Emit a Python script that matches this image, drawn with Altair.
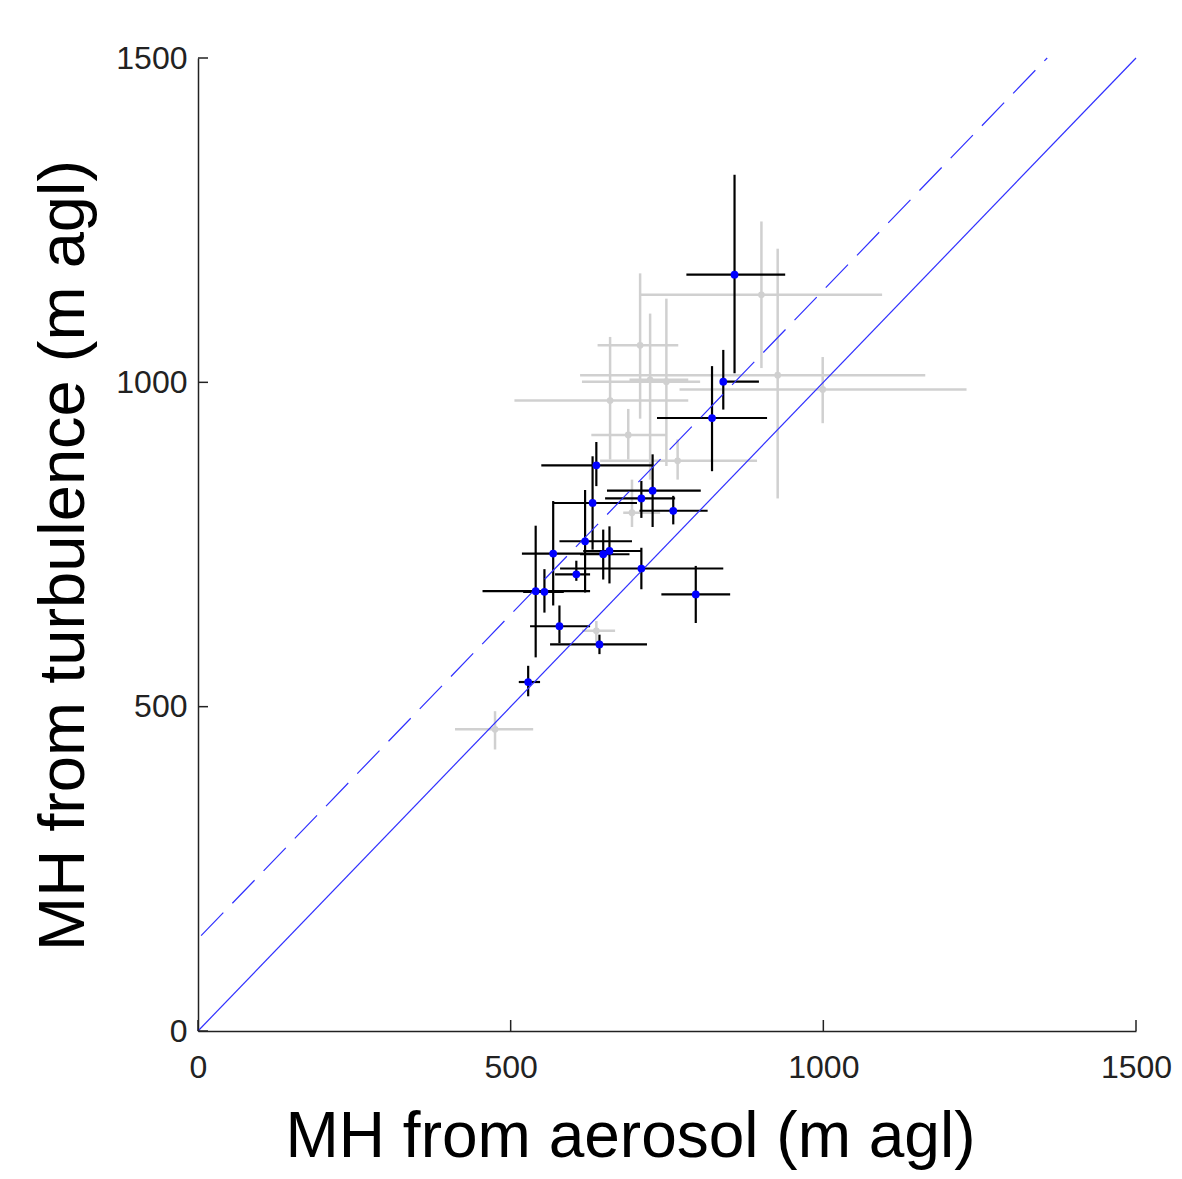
import altair as alt
import pandas as pd

# Blue points with black error bars
bx = [637, 727, 709, 760, 631, 619, 568, 648, 658, 709, 605, 540, 554, 578, 642, 796, 528, 858, 822, 840]
by = [872, 833, 821, 802, 814, 755, 736, 735, 740, 713, 704, 678, 677, 624, 596, 673, 538, 1166, 945, 1001]
bxlo = [549, 654, 651, 706, 568, 578, 518, 611, 616, 579, 571, 455, 520, 531, 563, 741, 513, 781, 734, 835]
bxhi = [728, 804, 763, 815, 702, 694, 643, 690, 710, 840, 627, 627, 585, 627, 718, 851, 547, 939, 910, 897]
bylo = [840, 777, 791, 781, 742, 676, 656, 696, 690, 681, 694, 576, 645, 598, 581, 629, 516, 1014, 863, 958]
byhi = [908, 889, 848, 825, 886, 834, 817, 773, 778, 745, 725, 779, 712, 656, 611, 717, 563, 1320, 1025, 1050]

# Gray points with gray error bars
gx = [707, 723, 749, 659, 688, 767, 901, 927, 999, 694, 637, 475]
gy = [1057, 1004, 1001, 972, 919, 879, 1135, 1011, 989, 799, 617, 465]
gxlo = [639, 690, 614, 506, 629, 643, 706, 611, 770, 680, 614, 411]
gxhi = [768, 784, 803, 784, 749, 894, 1094, 1163, 1229, 739, 667, 536]
gylo = [944, 850, 871, 881, 881, 850, 1022, 821, 937, 777, 599, 434]
gyhi = [1168, 1106, 1129, 1070, 959, 912, 1248, 1206, 1039, 850, 632, 493]

# Reference lines
solid_x = [0, 1500]
solid_y = [0, 1500]
dash_x = [5, 1358]
dash_y = [147, 1500]

tick_values = [0, 500, 1000, 1500]

bdf = pd.DataFrame({"x": bx, "y": by, "xlo": bxlo, "xhi": bxhi, "ylo": bylo, "yhi": byhi})
gdf = pd.DataFrame({"x": gx, "y": gy, "xlo": gxlo, "xhi": gxhi, "ylo": gylo, "yhi": gyhi})
sdf = pd.DataFrame({"x": solid_x, "y": solid_y})
ddf = pd.DataFrame({"x": dash_x, "y": dash_y})
tdf = pd.DataFrame({"v": tick_values})

W, H = 938, 973
sx = alt.Scale(domain=[0, 1500], nice=False, zero=False)
sy = alt.Scale(domain=[0, 1500], nice=False, zero=False)

FONT = "Liberation Sans"
xaxis = alt.Axis(values=tick_values, format="d", ticks=False, grid=False, domainColor="#222",
                 domainWidth=1.5, labelFont=FONT, labelFontSize=32, labelColor="#222",
                 labelPadding=21, labelFlush=False, labelOverlap=False,
                 title="MH from aerosol (m agl)", titleFont=FONT,
                 titleFontSize=64, titleFontWeight="normal", titleColor="#000",
                 titleX=432, titleY=125, titleAlign="center", titleBaseline="alphabetic")
yaxis = alt.Axis(values=tick_values, format="d", ticks=False, grid=False, domainColor="#222",
                 domainWidth=1.5, labelFont=FONT, labelFontSize=32, labelColor="#222",
                 labelPadding=11, labelFlush=False, labelOverlap=False,
                 title="MH from turbulence (m agl)", titleFont=FONT,
                 titleFontSize=65, titleFontWeight="normal", titleColor="#000",
                 titleAngle=270, titleX=-115, titleY=497, titleAlign="center",
                 titleBaseline="alphabetic")

X = lambda f: alt.X(f, type="quantitative", scale=sx, axis=xaxis)
Y = lambda f: alt.Y(f, type="quantitative", scale=sy, axis=yaxis)

GRAY = "#d0d0d0"
gray_h = alt.Chart(gdf).mark_rule(color=GRAY, strokeWidth=2.5).encode(x=X("xlo"), x2="xhi", y=Y("y"))
gray_v = alt.Chart(gdf).mark_rule(color=GRAY, strokeWidth=2.5).encode(x=X("x"), y=Y("ylo"), y2="yhi")
gray_p = alt.Chart(gdf).mark_circle(color=GRAY, size=45, opacity=1).encode(x=X("x"), y=Y("y"))

blk_h = alt.Chart(bdf).mark_rule(color="#000", strokeWidth=2.2).encode(x=X("xlo"), x2="xhi", y=Y("y"))
blk_v = alt.Chart(bdf).mark_rule(color="#000", strokeWidth=2.2).encode(x=X("x"), y=Y("ylo"), y2="yhi")

solid = alt.Chart(sdf).mark_line(color="#3030ff", strokeWidth=1.2).encode(x=X("x"), y=Y("y"))
dashed = alt.Chart(ddf).mark_line(color="#3030ff", strokeWidth=1.2, strokeDash=[32, 13]).encode(x=X("x"), y=Y("y"))

blue_p = alt.Chart(bdf).mark_circle(color="#0000ff", size=60, opacity=1).encode(x=X("x"), y=Y("y"))

xticks = alt.Chart(tdf).mark_rule(color="#222", strokeWidth=1.5).encode(
    x=X("v"), y=alt.value(H), y2=alt.value(H - 11))
yticks = alt.Chart(tdf).mark_rule(color="#222", strokeWidth=1.5).encode(
    y=Y("v"), x=alt.value(0), x2=alt.value(10))

chart = alt.layer(gray_h, gray_v, gray_p, blk_h, blk_v, solid, dashed, blue_p, xticks, yticks).properties(
    width=W, height=H,
    autosize=alt.AutoSizeParams(type="none"),
    padding={"left": 190, "top": 50, "right": 38, "bottom": 140},
    background="white",
).configure_view(stroke=None)

chart.save("out.html", embed_options={"renderer": "svg", "actions": False})
